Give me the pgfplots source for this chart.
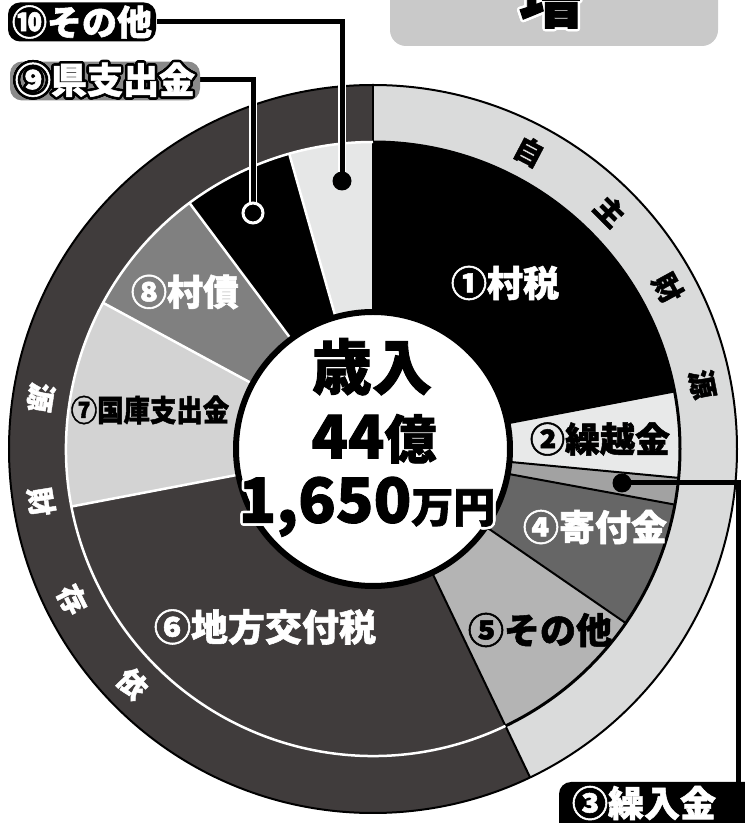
\documentclass[border=0pt]{standalone}
\usepackage{pgfplots}
\pgfplotsset{compat=1.18}
\usepackage{pgfplotstable}
\usepackage{fontspec}
\usepackage{contour}
\setmainfont{Noto Sans CJK JP}[BoldFeatures={FakeBold=1.5}]
\contournumber{24}

% slice colours, clockwise from the top
\definecolor{pc0}{HTML}{000000}
\definecolor{pc1}{HTML}{E8E9E9}
\definecolor{pc2}{HTML}{A2A2A2}
\definecolor{pc3}{HTML}{666666}
\definecolor{pc4}{HTML}{B4B4B4}
\definecolor{pc5}{HTML}{403C3C}
\definecolor{pc6}{HTML}{D3D3D3}
\definecolor{pc7}{HTML}{808080}
\definecolor{pc8}{HTML}{000000}
\definecolor{pc9}{HTML}{E6E7E7}
\definecolor{ringlight}{HTML}{DADBDB}
\definecolor{ringdark}{HTML}{403C3C}
\definecolor{boxgray}{HTML}{C9C9C9}
\definecolor{tagray}{HTML}{8A8A8A}

\newcommand\fs[1]{\fontsize{#1}{#1}\selectfont\bfseries}

% revenue shares in percent
\pgfplotstableread{
id share
0 22.0
1 4.5
2 1.4
3 6.7
4 8.3
5 29.1
6 10.9
7 6.9
8 5.8
9 4.4
}\pietable

% start / end angle of every slice, clockwise from 12 o'clock
\xdef\cum{0}
\pgfplotsinvokeforeach{0,...,9}{%
  \pgfplotstablegetelem{#1}{share}\of\pietable%
  \pgfmathsetmacro\tmpst{90-3.6*\cum}%
  \pgfmathsetmacro\tmpcum{\cum+\pgfplotsretval}%
  \xdef\cum{\tmpcum}%
  \pgfmathsetmacro\tmpen{90-3.6*\cum}%
  \expandafter\xdef\csname ps#1\endcsname{\tmpst}%
  \expandafter\xdef\csname pe#1\endcsname{\tmpen}%
}
\xdef\splitang{\csname pe4\endcsname}

\begin{document}
\begin{tikzpicture}[x=1pt,y=1pt]
\useasboundingbox (0,0) rectangle (745,823);
\clip (0,0) rectangle (745,823);
\begin{axis}[
  x=1pt, y=1pt, at={(0,0)}, anchor=origin,
  xmin=0, xmax=745, ymin=0, ymax=823,
  hide axis, clip=false, enlargelimits=false,
]
  % outer ring
  \fill[ringlight] (axis cs:373,374) -- ++(90:364pt)
     arc[start angle=90, end angle=\splitang, radius=364pt] -- cycle;
  \fill[ringdark] (axis cs:373,374) -- ++(\splitang:364pt)
     arc[start angle=\splitang, end angle=-270, radius=364pt] -- cycle;
  \draw[black, line width=2pt] (axis cs:373,374) circle[radius=364pt];
  \draw[black, line width=2pt] (axis cs:373,374) ++(90:300pt) -- ++(90:64pt);
  \draw[black, line width=2pt] (axis cs:373,374) ++(\splitang:300pt) -- ++(\splitang:64pt);
  % slices
  \pgfplotsinvokeforeach{0,...,9}{
    \fill[pc#1] (axis cs:373,374) -- ++(\csname ps#1\endcsname:307pt)
      arc[start angle=\csname ps#1\endcsname, end angle=\csname pe#1\endcsname, radius=307pt] -- cycle;
  }
  \pgfplotsinvokeforeach{5,...,8}{
    \draw[white, line width=2.5pt] (axis cs:373,374) -- ++(\csname pe#1\endcsname:307pt);
  }
  \pgfplotsinvokeforeach{0,...,4}{
    \draw[black, line width=2pt] (axis cs:373,374) -- ++(\csname pe#1\endcsname:307pt);
  }
  \draw[black, line width=1.5pt] (axis cs:373,374) -- ++(90:307pt);
  \draw[black, line width=3pt] (axis cs:373,374) ++(90:307pt)
     arc[start angle=90, end angle=\splitang, radius=307pt];
  \draw[white, line width=2.5pt] (axis cs:373,374) ++(\splitang:307pt)
     arc[start angle=\splitang, end angle=-270, radius=307pt];
  % centre hole
  \draw[fill=white, draw=black, line width=6pt] (axis cs:373,374) circle[radius=137pt];
\end{axis}

% ring captions
\foreach \ch/\a in {自/62.3, 主/45.1, 財/28.7, 源/11.1}
  \node[rotate=\a-90, font=\fs{29}, text=black] at ([shift={(\a:336)}]373,374) {\ch};
\foreach \ch/\a in {依/224.3, 存/206.6, 財/189, 源/171.2}
  \node[rotate=\a+90, font=\fs{29}, text=white] at ([shift={(\a:336)}]373,374) {\ch};

% slice labels
\node[font=\fs{36}, text=white] at (505,540) {①村税};
\node[font=\fs{35}, text=black] at (600,384) {②繰越金};
\node[font=\fs{36}, text=white] at (595,296) {④寄付金};
\node[font=\fs{36}, text=black] at (540,193) {⑤その他};
\node[font=\fs{37}, text=white] at (265,196) {⑥地方交付税};
\node[font=\fs{30}, text=black, xscale=0.88] at (150,413) {⑦国庫支出金};
\node[font=\fs{36}, text=white] at (185,531) {⑧村債};

% centre total
\contourlength{2.5pt}
\node[font=\fs{60}] at (372,455) {\contour{white}{歳入}};
\node[font=\fs{60}] at (374,383) {\contour{white}{44{\fs{52}億}}};
\node[font=\fs{62}] at (367,315) {\contour{white}{1,650{\fs{42}万円}}};

% call-outs
\draw[white, line width=8pt] (157,801) -- (342,801) -- (342,643);
\draw[black, line width=5pt] (157,801) -- (342,801) -- (342,643);
\fill[black] (342,642) circle[radius=9.5];
\node[fill=black, rounded corners=12pt, text=white, font=\fs{35}, inner xsep=4pt,
      minimum height=39pt, inner ysep=1pt] at (82,801) {⑩その他};

\draw[white, line width=8pt] (200,743) -- (253,743) -- (253,620);
\draw[black, line width=5pt] (200,743) -- (253,743) -- (253,620);
\draw[fill=black, draw=white, line width=3pt] (253,610) circle[radius=10];
\node[fill=tagray, rounded corners=12pt, font=\fs{36}, inner xsep=5pt,
      minimum height=38pt, inner ysep=1pt] at (105,742) {\contour{black}{\textcolor{white}{⑨県支出金}}};

\draw[black, line width=5pt] (622,340) -- (738,340) -- (738,41);
\fill[black] (622,340) circle[radius=9.5];
\fill[black, rounded corners=12pt] (559,-20) rectangle (770,41);
\node[font=\fs{36}, text=white] at (644,20) {③繰入金};

% top banner
\fill[boxgray, rounded corners=16pt] (390,777) rectangle (718,860);
\node[font=\fs{64}] at (551,824) {\contour{white}{増}};
\end{tikzpicture}
\end{document}
